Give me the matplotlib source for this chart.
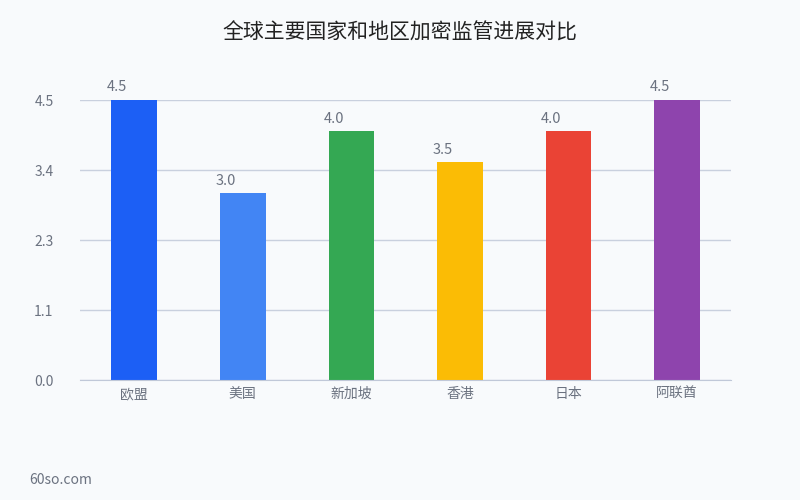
import matplotlib.pyplot as plt

plt.rcParams['font.family'] = ['Noto Sans CJK SC', 'DejaVu Sans']

# Data
regions = ['欧盟', '美国', '新加坡', '香港', '日本', '阿联酋']
scores = [4.5, 3.0, 4.0, 3.5, 4.0, 4.5]
colors = ['#1c5ff5', '#4285f4', '#34a853', '#fbbc05', '#ea4335', '#8e44ad']
y_ticks = [0, 1.125, 2.25, 3.375, 4.5]
y_tick_labels = ['0.0', '1.1', '2.3', '3.4', '4.5']

bg = '#f8fafc'
text_color = '#6b7280'

fig = plt.figure(figsize=(8, 5), dpi=100, facecolor=bg)
ax = fig.add_axes([0.1, 0.24, 0.814, 0.56], facecolor=bg)

x = range(len(regions))
bars = ax.bar(x, scores, width=0.42, color=colors, zorder=3)

ax.set_xlim(-0.5, len(regions) - 0.5)
ax.set_ylim(0, 4.5)
ax.set_yticks(y_ticks)
ax.set_yticklabels(y_tick_labels)
ax.set_xticks(list(x))
ax.set_xticklabels(regions)

ax.grid(axis='y', color='#c9d0de', linewidth=1, zorder=0)
ax.tick_params(axis='both', length=0, colors=text_color, labelsize=10)
ax.tick_params(axis='y', pad=19)
ax.tick_params(axis='x', pad=5)
for name, s in ax.spines.items():
    s.set_visible(name == 'bottom')
ax.spines['bottom'].set_color('#c0c8d8')
ax.spines['bottom'].set_zorder(4)

# Value labels above bars (sitting toward the bar's left edge)
for bar, val in zip(bars, scores):
    ax.annotate(f'{val:.1f}', (bar.get_x() + bar.get_width() / 2, val),
                xytext=(-12.5, 4), textcoords='offset points',
                ha='center', va='bottom', fontsize=10.5, color=text_color)

fig.text(0.5, 0.935, '全球主要国家和地区加密监管进展对比', ha='center', va='center',
         fontsize=15, color='#222222')
fig.text(0.037, 0.04, '60so.com', ha='left', va='center', fontsize=10, color=text_color)

plt.savefig('out.png', dpi=100, facecolor=bg)
